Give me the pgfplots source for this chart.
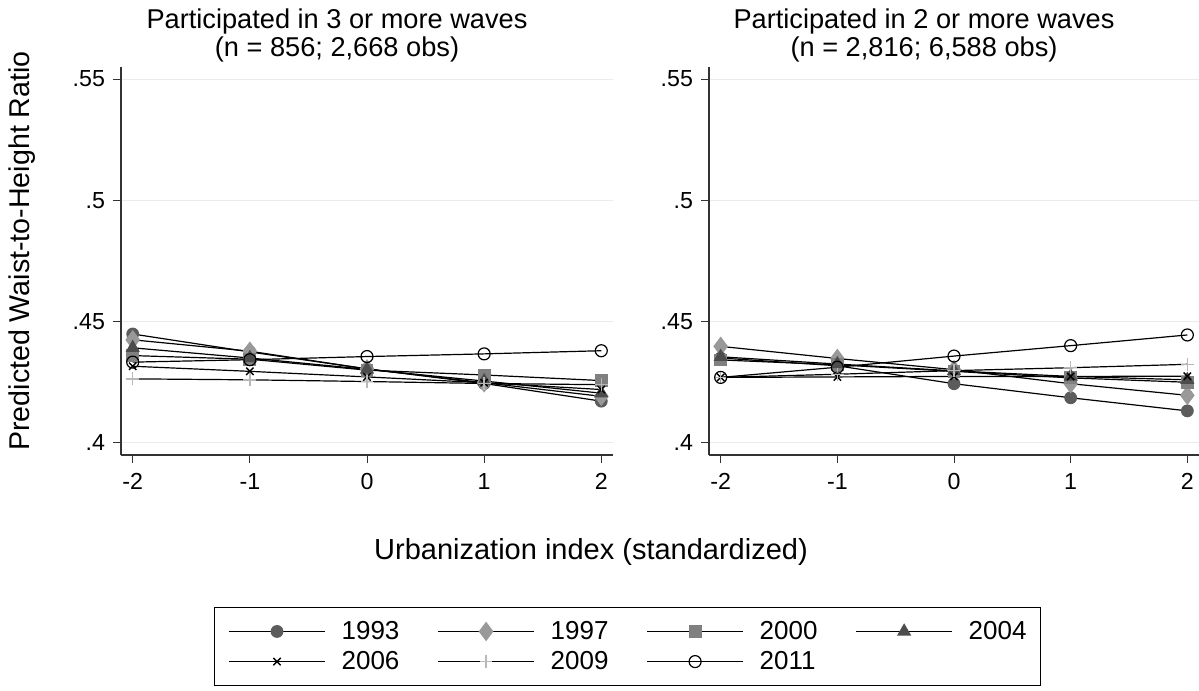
\documentclass[border=0pt]{standalone}
\usepackage{pgfplots}
\pgfplotsset{compat=1.18}
\usepackage{fontspec}
\setmainfont{Liberation Sans}
\definecolor{cA}{gray}{0.36}
\definecolor{cB}{gray}{0.60}
\definecolor{cC}{gray}{0.50}
\definecolor{cD}{gray}{0.30}
\definecolor{cF}{gray}{0.72}
\definecolor{gridc}{gray}{0.92}
\pgfplotsset{
  panel/.style={
    scale only axis,
    height=194bp,
    xmin=-2.1, xmax=2.1, ymin=0.395, ymax=0.555,
    axis x line*=bottom, axis y line*=left,
    axis line style={-, line width=0.7bp, black!80},
    xtick={-2,-1,0,1,2}, xticklabels={-2,-1,0,1,2},
    ytick={0.4,0.45,0.5,0.55}, yticklabels={.4,.45,.5,.55},
    tick align=outside, major tick length=4bp,
    tick style={line width=0.5bp, black!80},
    xmajorgrids=false, ymajorgrids=true,
    major grid style={line width=0.6bp, draw=gridc},
    tick label style={font=\fontsize{11.6bp}{13bp}\selectfont},
    xticklabel style={yshift=-1.5bp},
    yticklabel style={xshift=-0.5bp},
    every axis plot/.append style={line width=0.6bp, black},
    clip=false,
  },
  s93/.style={mark=*, mark size=2.9bp, mark options={draw=cA, fill=cA}},
  s97/.style={mark=diamond*, mark size=4.4bp, mark options={draw=cB, fill=cB}},
  s00/.style={mark=square*, mark size=2.9bp, mark options={draw=cC, fill=cC}},
  s04/.style={mark=triangle*, mark size=3.5bp, mark options={draw=cD, fill=cD}},
  s06/.style={mark=x, mark size=2.6bp, mark options={draw=black, line width=0.7bp}},
  s09/.style={mark=+, mark size=3.2bp, mark options={draw=cF, line width=0.7bp}},
  s11/.style={mark=o, mark size=3bp, mark options={draw=black, fill=white, line width=0.6bp}},
}
\begin{document}
\begin{tikzpicture}
\useasboundingbox (0,0) rectangle (599.5bp,-345.5bp);
% left panel
\begin{axis}[panel, width=246bp, at={(60.5bp,-227.5bp)}, anchor=south west,
  legend columns=4,
  legend style={at={(1.0295,-0.4936)}, anchor=center, draw=black, line width=0.6bp,
    font=\fontsize{13bp}{15bp}\selectfont, inner xsep=7bp, inner ysep=4.5bp,
    nodes={inner xsep=0bp, inner ysep=2bp},
    /tikz/every even column/.append style={column sep=19bp},
    row sep=0.5bp},
  legend cell align=left,
  legend image code/.code={
    \draw[mark repeat=2,mark phase=2,#1] plot coordinates {(0bp,0bp)(24bp,0bp)(48bp,0bp)};
    \path (56bp,0bp);
  },
]
\addplot[s93] coordinates {(-2,.4449)(-1,.4375)(0,.4305)(1,.4245)(2,.4172)};
\addlegendentry{1993}
\addplot[s97] coordinates {(-2,.4425)(-1,.4378)(0,.4305)(1,.4248)(2,.4192)};
\addlegendentry{1997}
\addplot[s00] coordinates {(-2,.4360)(-1,.4345)(0,.4300)(1,.4280)(2,.4257)};
\addlegendentry{2000}
\addplot[s04] coordinates {(-2,.4392)(-1,.4350)(0,.4303)(1,.4255)(2,.4205)};
\addlegendentry{2004}
\addplot[s06] coordinates {(-2,.4316)(-1,.4295)(0,.4272)(1,.4248)(2,.4220)};
\addlegendentry{2006}
\addplot[s09] coordinates {(-2,.4264)(-1,.4260)(0,.4253)(1,.4245)(2,.4240)};
\addlegendentry{2009}
\addplot[s11] coordinates {(-2,.4333)(-1,.4343)(0,.4356)(1,.4367)(2,.4380)};
\addlegendentry{2011}
\end{axis}
% right panel
\begin{axis}[panel, width=245bp, at={(354.5bp,-227.5bp)}, anchor=south west]
\addplot[s93] coordinates {(-2,.4350)(-1,.4318)(0,.4244)(1,.4186)(2,.4132)};
\addplot[s97] coordinates {(-2,.4398)(-1,.4348)(0,.4302)(1,.4244)(2,.4196)};
\addplot[s00] coordinates {(-2,.4342)(-1,.4322)(0,.4295)(1,.4268)(2,.4250)};
\addplot[s04] coordinates {(-2,.4355)(-1,.4325)(0,.4297)(1,.4274)(2,.4260)};
\addplot[s06] coordinates {(-2,.4270)(-1,.4272)(0,.4274)(1,.4274)(2,.4275)};
\addplot[s09] coordinates {(-2,.4270)(-1,.4283)(0,.4298)(1,.4310)(2,.4324)};
\addplot[s11] coordinates {(-2,.4270)(-1,.4312)(0,.4358)(1,.4401)(2,.4445)};
\end{axis}
% titles
\node[align=center, font=\fontsize{13.6bp}{14bp}\selectfont] at (168.5bp,-17.6bp)
  {Participated in 3 or more waves\\(n = 856; 2,668 obs)};
\node[align=center, font=\fontsize{13.6bp}{14bp}\selectfont] at (462bp,-17.6bp)
  {Participated in 2 or more waves\\(n = 2,816; 6,588 obs)};
% axis titles
\node[rotate=90, font=\fontsize{14.3bp}{16bp}\selectfont] at (11bp,-125.5bp)
  {Predicted Waist-to-Height Ratio};
\node[font=\fontsize{14.5bp}{16bp}\selectfont] at (295.5bp,-276bp)
  {Urbanization index (standardized)};
\end{tikzpicture}
\end{document}
